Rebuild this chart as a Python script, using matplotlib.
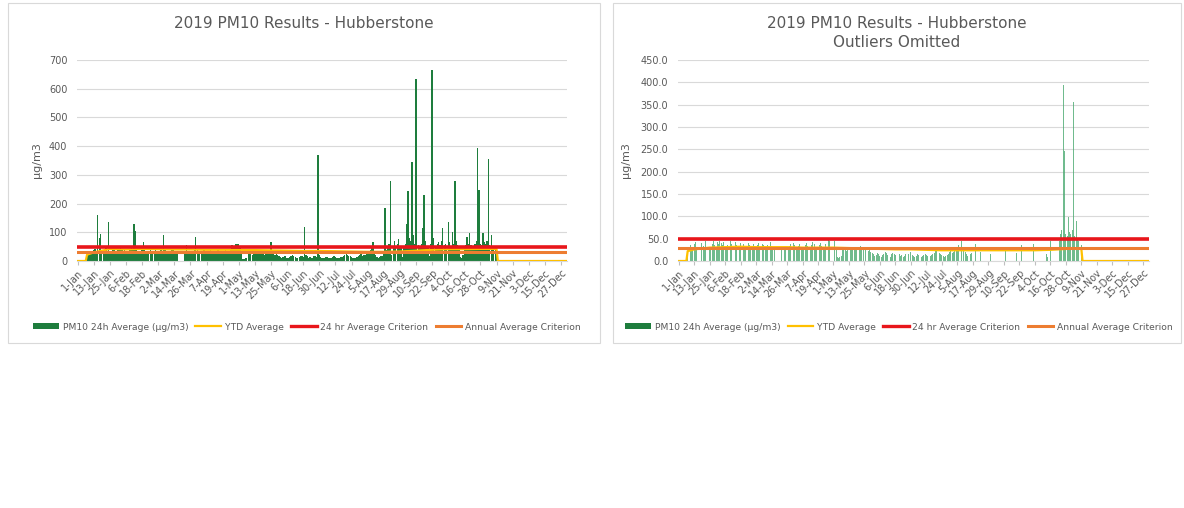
import numpy as np
import matplotlib
matplotlib.use("Agg")
import matplotlib.pyplot as plt
from matplotlib.patches import Rectangle, Patch
from matplotlib.lines import Line2D

# daily PM10 24h averages (ug/m3), 2019, None = no data
jan = [None] * 7 + [22, 28, 35, 30, 26, 38, 42, 30, 160, 80, 95, 40, 33, 28, 45, 32,
                    135, 30, 25, 38, 44, 36, 30, 42]
feb = [38, 45, 40, 36, 42, 30, 28, 35, 40, 44, 38, 130, 105, 42, 36, 30, 33, 40, 65, 38,
       30, 26, 34, 40, 36, 28, 32, 38]
mar = [34, 30, 36, 40, 32, 90, 38, 35, 30, 28, 36, 40, 42, 34, 30, 28, None, None, None,
       None, None, 26, 55, 32, 30, 36, 28, 34, 38, 85, 40]
apr = [36, 30, 28, 34, 38, 32, 26, 30, 35, 40, 33, 28, 30, 36, 42, 38, 30, 27, 33, 36,
       40, 34, 30, 28, 38, 55, 48, 44, 58, 60]
may = [60, 45, 30, 8, 6, 10, 12, 28, 30, 25, 22, 30, 28, 24, 26, 30, 32, 28, 25, 22,
       30, 34, 30, 28, 65, 30, 26, 22, 24, 20, 18]
jun = [15, 12, 14, 18, 16, 12, 10, 14, 16, 20, 18, 14, 12, 10, 15, 18, 16, 14, 120, 20,
       16, 12, 14, 10, 12, 16, 18, 15, 370, 20]
jul = [14, 12, 10, 12, 15, 13, 11, 10, 12, 14, 16, 14, 12, 10, 11, 13, 15, 18, 22, 25,
       20, 18, 16, 14, 12, 10, 12, 14, 16, 20, 24]
aug = [18, 20, 22, 25, 30, 35, 40, 45, 65, 30, 20, 15, 12, 14, 16, 18, 30, 185, 38, 50,
       60, 280, 20, 48, 70, 52, 60, 75, 50, 45, 15]
sep = [50, 60, 130, 245, 80, 70, 345, 90, 60, 635, 32, 55, 50, 60, 115, 230, 70, 50, 45,
       18, 60, 665, 80, 36, 50, 60, 65, 55, 70, 115]
oct_ = [55, 60, 38, 135, 65, 50, 100, 60, 280, 70, 55, 50, 15, 10, 20, 45, 55, 85, 60, 98,
        55, 50, 45, 60, 70, 395, 247, 60, 55, 98, 65]
nov = [60, 70, 355, 55, 90, 50, 45, 40, 35] + [None] * 21
dec = [None] * 31
pm10 = jan + feb + mar + apr + may + jun + jul + aug + sep + oct_ + nov + dec

# days (0 = 1-Jan) left out of the "outliers omitted" chart
omitted_ranges = [(15, 17), (23, 23), (42, 43), (49, 49), (64, 64), (81, 81), (88, 88),
                  (115, 115), (118, 120), (144, 144), (169, 169), (179, 179), (220, 220),
                  (228, 229), (231, 233), (235, 241), (243, 252), (254, 261), (263, 265),
                  (267, 274), (276, 284), (289, 293)]

# YTD average
ytd_days = [0, 6, 7, 12, 24, 36, 48, 60, 72, 84, 96, 108, 120, 132, 144, 156, 168, 180,
            192, 204, 216, 228, 240, 252, 264, 276, 288, 300, 312, 313, 364]
ytd_all = [0, 0, 22, 30, 42, 40, 42, 41, 40, 40, 39, 39, 39, 38, 37, 36, 35, 35, 34, 33,
           32, 32, 33, 36, 39, 41, 41, 42, 42, 0, 0]
ytd_omit = [0, 0, 22, 26, 30, 31, 32, 31, 31, 31, 30, 30, 30, 29, 28, 27, 26, 26, 25, 24,
            24, 24, 24, 24, 24, 24, 25, 27, 29, 0, 0]

crit_24h = 50
crit_annual = 30

tick_labels = ['1-Jan', '13-Jan', '25-Jan', '6-Feb', '18-Feb', '2-Mar', '14-Mar', '26-Mar',
               '7-Apr', '19-Apr', '1-May', '13-May', '25-May', '6-Jun', '18-Jun', '30-Jun',
               '12-Jul', '24-Jul', '5-Aug', '17-Aug', '29-Aug', '10-Sep', '22-Sep', '4-Oct',
               '16-Oct', '28-Oct', '9-Nov', '21-Nov', '3-Dec', '15-Dec', '27-Dec']
legend_labels = ['PM10 24h Average (µg/m3)', 'YTD Average', '24 hr Average Criterion',
                 'Annual Average Criterion']

GREEN = '#1e7d3d'
YELLOW = '#ffc000'
RED = '#e8161b'
ORANGE = '#ed7d31'
GREY = '#595959'

days = np.arange(365)
vals = np.array([np.nan if v is None else v for v in pm10], dtype=float)
vals_omit = vals.copy()
for a, b in omitted_ranges:
    vals_omit[a:b + 1] = np.nan

W, H = 1184, 508
fig = plt.figure(figsize=(W / 100, H / 100), dpi=100)

# panel frames
for x0, x1 in [(8, 600), (613, 1181)]:
    fig.patches.append(Rectangle((x0 / W, 1 - 343 / H), (x1 - x0) / W, 340 / H,
                                 transform=fig.transFigure, fill=False,
                                 edgecolor='#d9d9d9', lw=0.8))


def draw(ax, y, ytd, bar_kw, ymax, ystep, fmt):
    m = ~np.isnan(y)
    ax.bar(days[m], y[m], **bar_kw)
    ax.plot(ytd_days, ytd, color=YELLOW, lw=1.6, zorder=3)
    ax.plot([-0.5, 364.5], [crit_24h] * 2, color=RED, lw=2.6, zorder=3)
    ax.plot([-0.5, 364.5], [crit_annual] * 2, color=ORANGE, lw=2.2, zorder=3)
    ax.set_xlim(-0.5, 364.5)
    ax.set_ylim(0, ymax)
    ax.set_yticks(np.arange(0, ymax + 1, ystep))
    ax.yaxis.set_major_formatter(fmt)
    ax.set_xticks(np.arange(0, 361, 12))
    ax.set_xticklabels(tick_labels, rotation=45, ha='right', rotation_mode='anchor')
    ax.tick_params(axis='y', length=0, labelsize=7, labelcolor=GREY, pad=7)
    ax.tick_params(axis='x', length=3, color='#bfbfbf', labelsize=7, labelcolor=GREY, pad=2)
    ax.yaxis.grid(True, color='#d9d9d9', lw=0.8)
    ax.set_axisbelow(True)
    for s in ['top', 'right', 'left']:
        ax.spines[s].set_visible(False)
    ax.spines['bottom'].set_color('#d9d9d9')
    ax.set_ylabel('µg/m3', fontsize=8, color=GREY)


ax1 = fig.add_axes([77 / W, 247 / H, 490 / W, 201 / H])
draw(ax1, vals, ytd_all, dict(width=0.95, color=GREEN, linewidth=0), 700, 100,
     plt.FormatStrFormatter('%d'))
ax1.yaxis.set_label_coords(-0.072, 0.5)

ax2 = fig.add_axes([678 / W, 247 / H, 471 / W, 201 / H])
draw(ax2, vals_omit, ytd_omit, dict(width=0.7, color='#4caa72', alpha=0.8, linewidth=0),
     450, 50, plt.FormatStrFormatter('%.1f'))
ax2.yaxis.set_label_coords(-0.1, 0.5)

fig.text(304 / W, 1 - 24 / H, '2019 PM10 Results - Hubberstone', ha='center', va='center',
         fontsize=11, color=GREY)
fig.text(897 / W, 1 - 33 / H, '2019 PM10 Results - Hubberstone\nOutliers Omitted',
         ha='center', va='center', fontsize=11, color=GREY, linespacing=1.3)

handles = [Patch(facecolor=GREEN, edgecolor='none'),
           Line2D([], [], color=YELLOW, lw=1.6),
           Line2D([], [], color=RED, lw=2.4),
           Line2D([], [], color=ORANGE, lw=2.2)]
for cx in [307, 899]:
    leg = fig.legend(handles, legend_labels, loc='center', bbox_to_anchor=(cx / W, 1 - 327 / H),
                     ncol=4, frameon=False, fontsize=6.6, handlelength=2.8, handleheight=0.6,
                     columnspacing=0.8, handletextpad=0.4)
    for t in leg.get_texts():
        t.set_color(GREY)

fig.savefig('out.png', dpi=100, facecolor='white')
